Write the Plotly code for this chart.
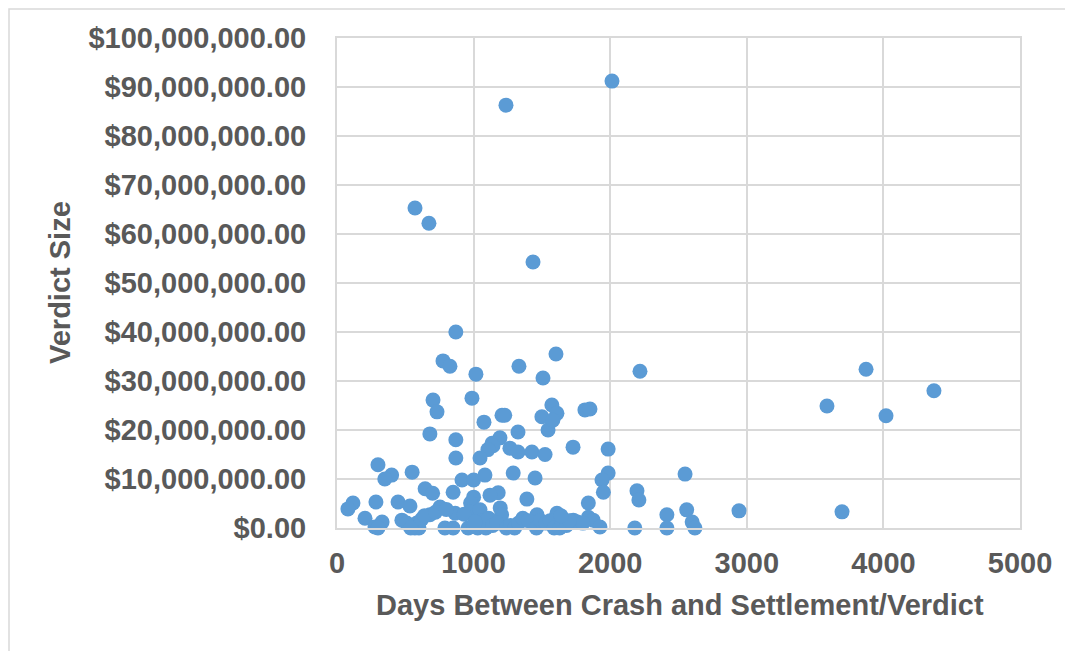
import plotly.graph_objects as go

days = [2013, 1237, 571, 673, 1435, 870, 1603, 776, 827, 1017, 1332, 2218, 1508,
        3873, 4370, 3587, 4019, 3697, 2943, 703, 732, 988, 1076, 1208, 1228, 680,
        870, 1325, 1500, 1573, 1610, 1545, 1580, 1815, 1852, 1728, 1985, 1193, 1135,
        1142, 1105, 1266, 1325, 1427, 1523, 1047, 870, 300, 400, 350, 550, 645, 700,
        1290, 1450, 915, 1000, 1083, 1180, 1120, 1000, 978, 1390, 1840, 1985, 1940,
        1950, 2196, 2210, 2548, 2560, 2600, 2620, 2415, 2415, 2180, 850, 117, 80,
        285, 447, 534, 205, 278, 330, 300, 475, 585, 600, 570, 680, 754, 865, 790,
        850, 975, 1047, 1195, 1205, 1610, 1464, 1840, 1875, 1925, 1730, 1760, 1800,
        960, 1000, 1030, 1060, 1090, 1110, 1140, 1170, 1240, 1270, 1300, 1330, 1360,
        1400, 1460, 1490, 1530, 1560, 1590, 1630, 1650, 1680, 1700, 1640, 510, 540,
        620, 640, 720, 800, 930, 1010]
verdict_millions = [91.2, 86.3, 65.3, 62.2, 54.3, 40, 35.5, 34.1, 33, 31.4, 33, 32, 30.6,
                    32.4, 28, 24.9, 22.9, 3.3, 3.5, 26.1, 23.7, 26.5, 21.6, 23, 23, 19.2,
                    18, 19.6, 22.7, 25.1, 23.4, 20, 22, 24.1, 24.3, 16.5, 16.1, 18.4, 17.3,
                    16.8, 16, 16.3, 15.5, 15.5, 15, 14.3, 14.3, 12.9, 10.8, 10, 11.4, 8, 7.1,
                    11.2, 10.2, 9.8, 9.8, 10.8, 7.2, 6.7, 6.3, 5.1, 5.9, 5.1, 11.2, 9.8,
                    7.3, 7.6, 5.7, 11, 3.7, 1.2, 0, 2.7, 0, 0, 7.3, 5.1, 3.9,
                    5.3, 5.3, 4.5, 2, 0.2, 1.2, 0, 1.6, 1, 0, 0, 2.7, 4.3, 3, 0,
                    0, 3.3, 3.7, 4.1, 2.7, 3, 2.7, 2.2, 1.6, 0.2, 1.6, 1.2, 1.0,
                    0, 0.5, 0, 1.5, 0, 2, 0.5, 1, 0, 0.5, 0, 1, 2,
                    1.5, 0, 1.5, 1, 1.5, 0, 0, 1, 0.5, 1.5, 2.5, 1, 0,
                    1.8, 2.5, 3.2, 3.8, 2.8, 1.2]
verdict = [v * 1e6 for v in verdict_millions]

y_ticks = [i * 10_000_000 for i in range(11)]
y_tick_labels = [f"${v:,.2f}" for v in y_ticks]
x_ticks = [0, 1000, 2000, 3000, 4000, 5000]

font_family = "Liberation Sans, Arial, sans-serif"
txt = "#595959"
grid = "#D9D9D9"
FS = 29

# page offset (body margin of 8px)
OFF = 8
L, R, T, B = 337 - OFF, 1020 - OFF, 38 - OFF, 528 - OFF
W, H = 1065, 643


def px(xp):
    return (xp - OFF - L) / (R - L)


def py(yp):
    return (B - (yp - OFF)) / (B - T)


fig = go.Figure(go.Scatter(
    x=days, y=verdict, mode="markers", cliponaxis=False,
    marker=dict(color="#5B9BD5", size=15, line=dict(width=0)),
    hoverinfo="x+y"))

fig.update_layout(
    width=W, height=H,
    margin=dict(l=L, r=W - R, t=T, b=H - B),
    paper_bgcolor="white", plot_bgcolor="white",
    showlegend=False,
    font=dict(family=font_family, color=txt, size=FS),
    xaxis=dict(range=[0, 5000], tickvals=x_ticks, showgrid=True, gridcolor=grid,
               gridwidth=2, zeroline=False, showline=True, linecolor=grid, linewidth=2,
               mirror=True, ticks="outside", ticklen=8, tickcolor="rgba(0,0,0,0)",
               tickfont=dict(size=FS, family=font_family, color=txt, weight="bold")),
    yaxis=dict(range=[0, 100_000_000], tickvals=y_ticks, ticktext=y_tick_labels,
               showgrid=True, gridcolor=grid, gridwidth=2, zeroline=False,
               showline=True, linecolor=grid, linewidth=2, mirror=True,
               ticks="outside", ticklen=23, tickcolor="rgba(0,0,0,0)",
               tickfont=dict(size=FS, family=font_family, color=txt, weight="bold")),
)

fig.add_annotation(text="<b>Days Between Crash and Settlement/Verdict</b>",
                   xref="paper", yref="paper", x=px(680), y=py(605),
                   showarrow=False, font=dict(size=FS, color=txt, family=font_family),
                   xanchor="center", yanchor="middle")
fig.add_annotation(text="<b>Verdict Size</b>", textangle=-90,
                   xref="paper", yref="paper", x=px(60), y=py(283),
                   showarrow=False, font=dict(size=FS, color=txt, family=font_family),
                   xanchor="center", yanchor="middle")

fig.add_shape(type="rect", xref="paper", yref="paper",
              x0=px(9), x1=px(1071), y0=py(660), y1=py(9),
              line=dict(color="#D9D9D9", width=1.5), layer="below")

fig.write_html("out.html")
